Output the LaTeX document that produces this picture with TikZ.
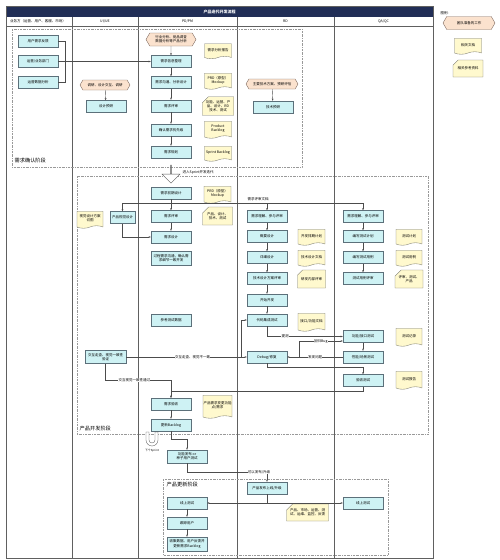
\documentclass[tikz,border=0pt]{standalone}
\usepackage{fontspec}
\setmainfont{Noto Sans CJK SC}
\usetikzlibrary{arrows.meta}
\usetikzlibrary{shapes.misc}
\usetikzlibrary{shapes.symbols}
\usetikzlibrary{shapes.arrows}
\definecolor{navy}{RGB}{33,46,86}
\definecolor{boxfill}{RGB}{206,242,244}
\definecolor{boxline}{RGB}{92,112,122}
\definecolor{docfill}{RGB}{255,249,206}
\definecolor{docline}{RGB}{120,120,110}
\definecolor{hexfill}{RGB}{251,226,206}
\definecolor{hexline}{RGB}{130,110,100}

\begin{document}
\begin{tikzpicture}[x=1pt, y=-1pt,
    every node/.style={font=\fontsize{3.5}{4.1}\selectfont, align=center, inner sep=0.5pt},
    box/.style={rectangle, draw=boxline, fill=boxfill, line width=0.45pt, minimum width=40pt, minimum height=12pt},
    doc/.style={tape, tape bend top=none, tape bend height=2.5pt, draw=docline, fill=docfill, line width=0.35pt, minimum width=27pt},
    card/.style={chamfered rectangle, chamfered rectangle corners=north west, chamfered rectangle xsep=3pt, chamfered rectangle ysep=3pt, draw=docline, fill=docfill, line width=0.35pt, minimum width=28pt},
    hexa/.style={signal, signal to=west and east, signal pointer angle=120, draw=hexline, fill=hexfill, line width=0.4pt, minimum width=50pt, minimum height=11pt},
    link/.style={draw=black!70, line width=0.4pt, -{Stealth[length=2.2pt, width=1.8pt]}},
    wire/.style={draw=black!70, line width=0.4pt},
    lbl/.style={fill=white, inner sep=0.3pt},
    lane/.style={draw=gray!75!black, line width=0.4pt},
    phase/.style={draw=gray!80, line width=0.45pt, dash pattern=on 2pt off 1pt on 0.5pt off 1pt},
    phaselbl/.style={font=\fontsize{5.2}{6}\selectfont, anchor=west}]
    \useasboundingbox (0,0) rectangle (500,560);

    \fill[navy] (6,6) rectangle (433,17);
    \node[text=white, font=\fontsize{4}{5}\selectfont\bfseries] (title) at (219.5,11.5) {产品迭代开发流程};
    \draw[lane] (6,6) rectangle (433,558);
    \draw[lane] (6,26) -- (433,26);
    \foreach \x in {72, 138, 237, 334} {
        \draw[lane] (\x,17) to (\x,558);
    }
    \node (lnbiz) at (38,21.5) {业务方（运营、用户、客服、市场）};
    \node (lnui) at (105,21.5) {UI/UE};
    \node (lnpd) at (187.5,21.5) {PD/PM};
    \node (lnrd) at (285.5,21.5) {RD};
    \node (lnqa) at (383.5,21.5) {QA/QC};

    \node[anchor=west] (lgd) at (440,13) {图例:};
    \node[hexa, minimum width=52pt, minimum height=13pt] (lgdhex) at (469,23) {团队准备的工作};
    \node[doc, minimum height=16pt] (lgddoc) at (468,45) {相关文档};
    \node[card, minimum width=30pt, minimum height=17pt] (lgdcard) at (468,68.5) {相关参考资料};

    \draw[phase] (12,29) rectangle (302,167);
    \draw[phase] (77,176) rectangle (428,434);
    \draw[phase] (163,479) rectangle (388,555);
    \node[phaselbl] (ph1) at (14,161) {需求确认阶段};
    \node[phaselbl] (ph2) at (79,429) {产品开发阶段};
    \node[phaselbl] (ph3) at (166,485) {产品更新阶段};

    \node[box] (biz1) at (38,41) {用户需求反馈};
    \node[box] (biz2) at (38,61.5) {运营/业务部门};
    \node[box] (biz3) at (38,82) {运营数据分析};
    \coordinate (bizj) at (65,61.5);
    \node[hexa, minimum height=13pt] (pdhex) at (171,39.5) {行业分析、竞品调查\\数据分析等产品分析};
    \node[box] (pd1) at (171,61.5) {需求信息整理};
    \node[box] (pd2) at (171,82.5) {需求沟通、分析设计};
    \node[box] (pd3) at (171,106) {需求评审};
    \node[box] (pd4) at (171,130) {确认需求优先级};
    \node[box] (pd5) at (171,152) {需求规划};
    \node[doc, minimum height=15pt] (pddoc1) at (218,50) {需求分析报告};
    \node[doc, minimum height=16pt] (pddoc2) at (218,80) {PRD（原型）\\Mockup};
    \node[card, minimum height=18pt] (pdcard) at (218,106) {功能、运营、产\\品、设计、RD\\技术、测试};
    \node[doc, minimum height=17pt] (pddoc3) at (218,128.5) {Product\\Backlog};
    \node[doc, minimum height=15pt] (pddoc4) at (218,152.5) {Sprint Backlog};
    \node[hexa, minimum height=10pt] (uihex) at (105,85) {调研、设计交互、调研};
    \node[box] (ui0) at (106,106.5) {设计预研};
    \node[hexa, minimum width=52pt, minimum height=10pt] (rdhex) at (272,84) {主要技术方案、预研评估};
    \node[box] (rd0) at (273,107) {技术预研};

    \draw[wire] (biz1.east) -| (bizj);
    \draw[wire] (biz3.east) -| (bizj);
    \draw[link] (biz2.east) -- (pd1.west);
    \draw[link] (pdhex) -- (pd1);
    \draw[link] (pd1) -- (pd2);
    \draw[link] (pd2) -- (pd3);
    \draw[link] (pd3) -- (pd4);
    \draw[link] (pd4) -- (pd5);
    \draw[link] (uihex) -- (ui0);
    \draw[link] (rdhex) -- (rd0);

    \node[single arrow, draw=gray!70!black, fill=white, line width=0.4pt, minimum width=18pt, minimum height=18pt, single arrow head extend=4.5pt, rotate=-90, inner sep=0pt] (sprint) at (171,174) {};
    \node[anchor=west] (sprintlbl) at (182,172) {进入Sprint开发迭代};

    \node[box] (dv1) at (171,193) {需求前期设计};
    \node[box] (dv2) at (171,216.5) {需求评审};
    \node[box] (dv3) at (171,237) {需求设计};
    \node[box, minimum height=14pt] (dv4) at (171,258) {过程需求沟通，确认需\\求细节一致开发};
    \node[box] (dv5) at (171,320) {参考测试数据};
    \node[box] (dv6) at (171,404) {需求验收};
    \node[box] (dv7) at (171,425) {更新Backlog};
    \node[doc, minimum height=17pt] (dvdoc1) at (217.5,193.5) {PRD（原型）\\Mockup};
    \node[card, minimum width=30pt, minimum height=18pt] (dvcard) at (217.5,216) {产品、设计、\\技术、测试};
    \node[doc, minimum height=23pt] (dvdoc2) at (217.5,405.5) {产品需求变更功能\\点/需求};

    \node[box, minimum width=25pt] (uv1) at (122.5,217.5) {产品视觉设计};
    \node[doc, minimum width=26pt, minimum height=17pt] (uvdoc) at (90,218.5) {视觉设计方案\\切图};
    \node[box, minimum width=41pt, minimum height=13pt] (uv2) at (105.5,357) {交互走查、视觉一致性\\验证};

    \node[box] (rv1) at (267,216.5) {需求理解、参与评审};
    \node[box] (rv2) at (267,236.5) {概要设计};
    \node[box] (rv3) at (267,257.5) {详细设计};
    \node[box] (rv4) at (267,278.5) {技术设计方案评审};
    \node[box] (rv5) at (267,300) {开始开发};
    \node[box] (rv6) at (267,320) {代码集成测试};
    \node[box] (rv7) at (267,357) {Debug/修复};
    \node[doc, minimum height=16pt] (rvdoc1) at (311.5,236) {开发排期计划};
    \node[doc, minimum height=16pt] (rvdoc2) at (311.5,257) {技术设计文档};
    \node[card, minimum height=18pt] (rvcard) at (311.5,279) {研发内部评审};
    \node[doc, minimum height=18pt] (rvdoc3) at (311.5,321) {接口/功能文档};

    \node[box] (qv1) at (363,216.5) {需求理解、参与评审};
    \node[box] (qv2) at (363,236.5) {编写测试计划};
    \node[box] (qv3) at (363,257.5) {编写测试用例};
    \node[box] (qv4) at (363,278.5) {测试用例评审};
    \node[box] (qv5) at (363,336.5) {功能/接口测试};
    \node[box] (qv6) at (363,357) {性能/场景测试};
    \node[box] (qv7) at (363,380.5) {验收测试};
    \node[doc, minimum width=26pt, minimum height=16pt] (qvdoc1) at (409,236) {测试计划};
    \node[doc, minimum width=26pt, minimum height=16pt] (qvdoc2) at (409,257) {测试用例};
    \node[card, minimum width=27pt, minimum height=18pt] (qvcard) at (409,279) {评审、测试、\\产品};
    \node[doc, minimum width=26pt, minimum height=18pt] (qvdoc3) at (409,336) {测试记录};
    \node[doc, minimum width=26pt, minimum height=18pt] (qvdoc4) at (409,379) {测试报告};

    \coordinate (spl) at (171,203);
    \coordinate (bugj) at (299,357);
    \coordinate (fixj) at (241,357);
    \coordinate (uvj) at (171,380);
    \draw[link] (dv1) -- (dv2);
    \draw[link] (dv2) -- (dv3);
    \draw[link] (spl) -| (uv1.north);
    \draw[link] (spl) -| (rv1.north);
    \draw[link] (spl) -| (qv1.north);
    \node[lbl] (spllbl) at (258,199.5) {需求评审文档};
    \draw[link] (uv1.south) |- (dv3.west);
    \draw[link] (rv1) -- (rv2);
    \draw[link] (rv2) -- (rv3);
    \draw[link] (rv3) -- (rv4);
    \draw[link] (rv4) -- (rv5);
    \draw[link] (rv5) -- (rv6);
    \draw[link] (qv1) -- (qv2);
    \draw[link] (qv2) -- (qv3);
    \draw[link] (qv3) -- (qv4);
    \draw[link] (qv5) -- (qv6);
    \draw[link] (rv6.south) |- node[lbl, pos=0.62] {提测} (qv5.west);
    \draw[link] (qv6.west) -- node[lbl, pos=0.5] {发现问题} (rv7.east);
    \draw[link] (bugj) |- node[lbl, pos=0.75] {回归Bug} ([yshift=-4.5pt]qv5.west);
    \draw[link] (uv2.east) -- node[lbl, pos=0.55] {交互走查、视觉不一致} (rv7.west);
    \draw[link] (fixj) |- (rv6.west);
    \draw[link] (rv7.south) -- ++(0,4) -| (qv7.north);
    \draw[link] (qv7.south) -- ++(0,4) -| (dv6.north);
    \draw[link] (uv2.south) |- node[lbl, pos=0.72] {交互视觉一致性通过} (uvj) -- (dv6.north);
    \draw[link] (dv6) -- (dv7);

    \draw[draw=gray!70!black, fill=white, line width=0.35pt] (146,432) -- (146,440) arc[start angle=180, end angle=0, radius=6] -- (158,432) -- (155,432) -- (155,440) arc[start angle=0, end angle=180, radius=3] -- (149,432) -- cycle;
    \node[font=\fontsize{2.8}{3.3}\selectfont] (nextlbl) at (152,451) {下个Sprint};

    \node[box, minimum height=13pt] (up1) at (187,456.5) {功能发布 or\\种子用户测试};
    \node[box] (up2) at (267,488) {产品发布上线/升级};
    \node[box] (up3) at (187,503) {线上测试};
    \node[box] (up4) at (187,523) {跟踪用户};
    \node[box, minimum height=14pt] (up5) at (187,544) {收集数据、用户反馈并\\更新需求Backlog};
    \node[box] (up6) at (363,503) {线上测试};
    \node[card, minimum width=41pt, minimum height=17pt] (upcard) at (307.5,512.5) {产品、市场、运营、测\\试、运维、监控、反馈};

    \draw[link] (dv7.south) -- ++(0,8) -| (up1.north);
    \draw[link] (up1.south) -- ++(0,9) -| node[lbl, pos=0.45] {可以发布/升级} (up2.north);
    \draw[link] (up2.south) |- (up3.east);
    \draw[link] (up2.south) |- (up6.west);
    \draw[link] (up3) -- (up4);
    \draw[link] (up4) -- (up5);
\end{tikzpicture}
\end{document}
